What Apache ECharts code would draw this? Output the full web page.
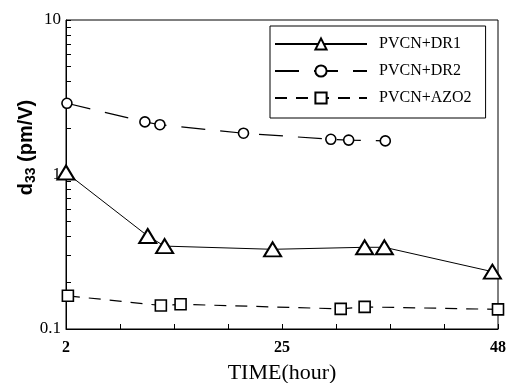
<!DOCTYPE html>
<html>
<head>
<meta charset="utf-8">
<script src="https://cdn.jsdelivr.net/npm/echarts@6/dist/echarts.min.js"></script>
<style>html,body{margin:0;padding:0;background:#fff}#c{width:507px;height:383px}</style>
</head>
<body>
<div id="c"></div>
<script>
var seriesNames = ['PVCN+DR1', 'PVCN+DR2', 'PVCN+AZO2'];
var dr1 = [[2, 1.03], [10.7, 0.40], [12.5, 0.344], [24, 0.328], [33.8, 0.338], [35.9, 0.338], [47.4, 0.235]];
var dr2 = [[2.1, 2.89], [10.4, 2.19], [12.0, 2.10], [20.9, 1.85], [30.2, 1.69], [32.1, 1.67], [36.0, 1.65]];
var azo2 = [[2.2, 0.164], [12.1, 0.142], [14.2, 0.1445], [31.25, 0.135], [33.8, 0.139], [48, 0.134]];
var xTickLabels = [2, 25, 48];
var yTickLabels = [0.1, 1, 10];
var yTicks = [0.1, 0.2, 0.3, 0.4, 0.5, 0.6, 0.7, 0.8, 0.9, 1, 2, 3, 4, 5, 6, 7, 8, 9, 10];

var chart = echarts.init(document.getElementById('c'));
var serif = 'Liberation Serif';
chart.setOption({
  animation: false,
  backgroundColor: '#fff',
  grid: { left: 66, right: 9, top: 20, bottom: 54, show: true, borderColor: '#000', borderWidth: 1, backgroundColor: 'transparent', outerBoundsMode: 'none', containLabel: false },
  legend: {
    orient: 'vertical', left: 270, top: 26,
    data: seriesNames,
    itemWidth: 92, itemHeight: 14, itemGap: 11,
    padding: [10, 14, 12, 4],
    borderColor: '#000', borderWidth: 1,
    textStyle: { fontFamily: serif, fontSize: 16, color: '#000', padding: [0, 0, 0, 7] },
    inactiveColor: '#000'
  },
  xAxis: {
    type: 'value', min: 2, max: 48, interval: 5.75,
    name: 'TIME(hour)', nameLocation: 'middle', nameGap: 33,
    nameTextStyle: { fontFamily: serif, fontSize: 22, color: '#000' },
    axisLine: { lineStyle: { color: '#000', width: 1 } },
    axisTick: { inside: true, length: 5, lineStyle: { color: '#000' } },
    splitLine: { show: false },
    axisLabel: {
      margin: 11, fontFamily: serif, fontSize: 16, fontWeight: 'bold', color: '#000',
      customValues: xTickLabels
    }
  },
  yAxis: {
    type: 'log', logBase: 10, min: 0.1, max: 10,
    name: '{a|d}{b|33}{a| (pm/V)}', nameLocation: 'middle', nameGap: 28, nameRotate: 90,
    nameMoveOverlap: false,
    nameTextStyle: {
      padding: [0, 0, 0, 54],
      rich: {
        a: { fontFamily: 'Liberation Sans', fontSize: 20, fontWeight: 'bold', color: '#000' },
        b: { fontFamily: 'Liberation Sans', fontSize: 14, fontWeight: 'bold', color: '#000', verticalAlign: 'bottom', padding: [9, 0, 0, 0] }
      }
    },
    axisLine: { lineStyle: { color: '#000', width: 1 } },
    axisTick: { show: true, inside: true, length: 5, lineStyle: { color: '#000', width: 1 }, customValues: yTicks },
    splitLine: { show: false },
    minorTick: { show: false },
    axisLabel: {
      margin: 5, fontFamily: serif, fontSize: 17, color: '#000',
      customValues: yTickLabels,
      formatter: function (v) { return String(v); }
    }
  },
  series: [
    {
      name: seriesNames[0], type: 'line', data: dr1,
      symbol: 'triangle', symbolSize: [17, 14],
      lineStyle: { color: '#000', width: 1 },
      itemStyle: { color: '#fff', borderColor: '#000', borderWidth: 2 }
    },
    {
      name: seriesNames[1], type: 'line', data: dr2,
      symbol: 'circle', symbolSize: 10,
      lineStyle: { color: '#000', width: 1.2, type: [24, 15] },
      itemStyle: { color: '#fff', borderColor: '#000', borderWidth: 1.6 }
    },
    {
      name: seriesNames[2], type: 'line', data: azo2,
      symbol: 'rect', symbolSize: 11,
      lineStyle: { color: '#000', width: 1.2, type: [12, 9] },
      itemStyle: { color: '#fff', borderColor: '#000', borderWidth: 1.6 }
    }
  ]
});
</script>
</body>
</html>
